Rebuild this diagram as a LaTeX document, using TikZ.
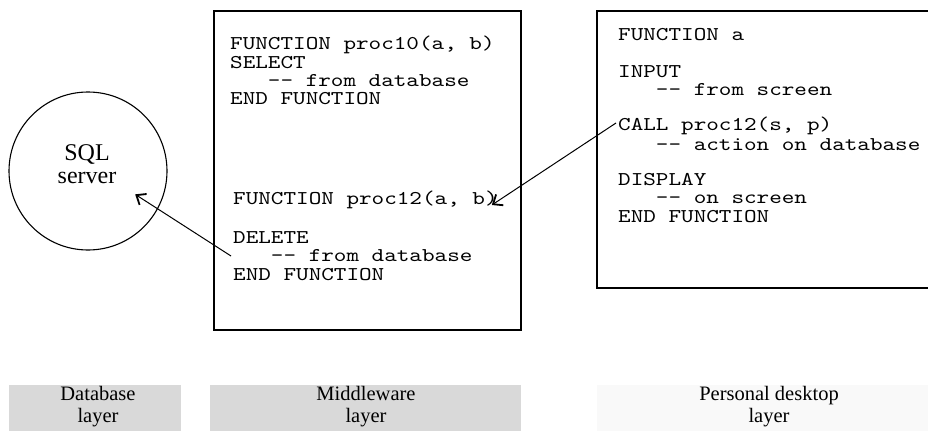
\documentclass[tikz,border=0pt]{standalone}
\usepackage{fontspec}
\setmainfont{Liberation Serif}
\newfontfamily\codefont{lmmono10-regular.otf}[FakeStretch=1.23, Ligatures=TeXOff]
\usetikzlibrary{arrows.meta, positioning, calc}
\newcommand{\ind}{\phantom{xxx}}

\begin{document}
\begin{tikzpicture}[
    x=1pt, y=-1pt,
    code/.style={anchor=west, inner sep=0pt, align=left, font=\codefont\fontsize{19.5}{18.2}\selectfont},
    frame/.style={draw=black, line width=1.1pt},
    layerbox/.style={fill=gray!30, draw=none},
    layertext/.style={align=center, font=\fontsize{20.5}{22}\selectfont},
    call/.style={line width=1pt, -{Straight Barb[length=8pt, width=13pt, line width=1.8pt]}}
]
    \useasboundingbox (0,0) rectangle (928,431);

    % Database layer
    \node[draw, circle, line width=1.1pt, minimum size=158pt, inner sep=0pt] (sql) at (88,171) {};
    \node[align=center, font=\fontsize{24}{23}\selectfont] (sqltxt) at (87,164) {SQL\\server};

    % Middleware layer
    \draw[frame] (214,11) rectangle (521,330);
    \node[code] (p10) at (230,70.5) {FUNCTION proc10(a, b)\\SELECT\\\ind-- from database\\END FUNCTION};
    \node[code] (p12) at (233,200) {FUNCTION proc12(a, b)};
    \node[code] (del) at (233,256) {DELETE\\\ind-- from database\\END FUNCTION};

    % Personal desktop layer
    \draw[frame] (928,11) -- (597,11) -- (597,288) -- (928,288);
    \node[code] (fa) at (618,35) {FUNCTION a};
    \node[code] (inp) at (618,81) {INPUT\\\ind-- from screen};
    \node[code] (cl) at (618,126) {CALL proc12(s, p)};
    \node[code] (act) at (618,144.5) {\ind-- action on database};
    \node[code] (disp) at (618,198) {DISPLAY\\\ind-- on screen\\END FUNCTION};

    % Calls
    \draw[call] ([shift={(-2pt,3pt)}]cl.west) -- ([shift={(-6pt,-5pt)}]p12.east);
    \draw[call] ([xshift=-2pt]del.west) -- ($(sqltxt.center)!0.33!(del.west)$);

    % Layer labels
    \fill[layerbox] (9,385) rectangle (181,431);
    \fill[layerbox] (210,385) rectangle (521,431);
    \fill[gray!5] (597,385) rectangle (928,431);
    \node[layertext] (dbl) at (98,407) {Database\\layer};
    \node[layertext] (mwl) at (366,407) {Middleware\\layer};
    \node[layertext] (pdl) at (769,407) {Personal desktop\\layer};

\end{tikzpicture}
\end{document}
